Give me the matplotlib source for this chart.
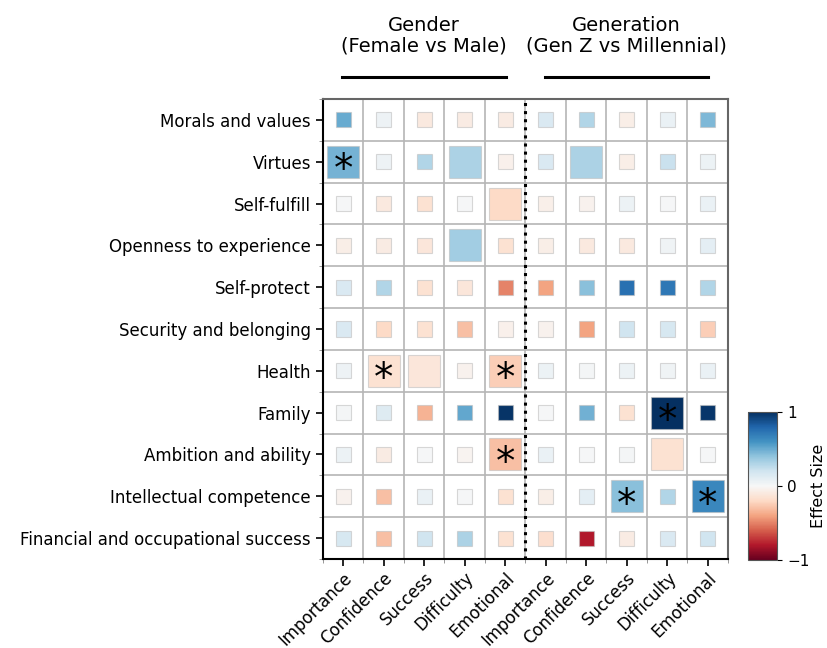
import numpy as np
import matplotlib
matplotlib.use("Agg")
import matplotlib.pyplot as plt
from matplotlib.patches import Rectangle
from matplotlib.colors import Normalize

# Data
rows = ["Morals and values", "Virtues", "Self-fulfill", "Openness to experience",
        "Self-protect", "Security and belonging", "Health", "Family",
        "Ambition and ability", "Intellectual competence",
        "Financial and occupational success"]
measures = ["Importance", "Confidence", "Success", "Difficulty", "Emotional"]
columns = measures + measures

# effect sizes: first 5 = gender (female vs male), last 5 = generation (gen z vs millennial)
effect = [
    [0.50, 0.05, -0.10, -0.08, -0.08, 0.15, 0.30, -0.07, 0.07, 0.45],
    [0.47, 0.05, 0.30, 0.32, -0.05, 0.15, 0.32, -0.07, 0.22, 0.06],
    [0.01, -0.10, -0.15, 0.01, -0.20, -0.06, -0.04, 0.06, 0.01, 0.07],
    [-0.07, -0.08, -0.12, 0.35, -0.15, -0.07, -0.10, -0.10, 0.04, 0.10],
    [0.15, 0.30, -0.15, -0.12, -0.50, -0.40, 0.42, 0.75, 0.72, 0.30],
    [0.15, -0.20, -0.15, -0.30, -0.05, -0.04, -0.40, 0.20, 0.17, -0.25],
    [0.05, -0.15, -0.12, -0.04, -0.25, 0.06, 0.02, 0.06, 0.04, 0.07],
    [0.02, 0.13, -0.35, 0.52, 0.98, 0.01, 0.48, -0.15, 1.00, 0.97],
    [0.06, -0.08, 0.01, -0.03, -0.30, 0.07, 0.01, 0.02, -0.15, 0.01],
    [-0.04, -0.30, 0.07, 0.01, -0.15, -0.07, 0.10, 0.42, 0.30, 0.65],
    [0.17, -0.30, 0.20, 0.32, -0.15, -0.17, -0.80, -0.08, 0.15, 0.20],
]
# 0 = not significant, 1 = large square, 2 = large square + asterisk
sig = [
    [0, 0, 0, 0, 0, 0, 0, 0, 0, 0],
    [2, 0, 0, 1, 0, 0, 1, 0, 0, 0],
    [0, 0, 0, 0, 1, 0, 0, 0, 0, 0],
    [0, 0, 0, 1, 0, 0, 0, 0, 0, 0],
    [0, 0, 0, 0, 0, 0, 0, 0, 0, 0],
    [0, 0, 0, 0, 0, 0, 0, 0, 0, 0],
    [0, 2, 1, 0, 2, 0, 0, 0, 0, 0],
    [0, 0, 0, 0, 0, 0, 0, 0, 2, 0],
    [0, 0, 0, 0, 2, 0, 0, 0, 1, 0],
    [0, 0, 0, 0, 0, 0, 0, 2, 0, 2],
    [0, 0, 0, 0, 0, 0, 0, 0, 0, 0],
]
group_titles = ["Gender\n(Female vs Male)", "Generation\n(Gen Z vs Millennial)"]

cmap = plt.get_cmap("RdBu")
norm = Normalize(-1, 1)

fig = plt.figure(figsize=(8.28, 6.48), dpi=100)
ax = fig.add_axes([0.390, 0.1373, 0.489, 0.710])

nr, nc = len(rows), len(columns)
# keep squares square although cells are slightly taller than wide
pos = ax.get_position()
cw = pos.width * fig.get_figwidth() / nc
ch = pos.height * fig.get_figheight() / nr
for i in range(nr):
    for j in range(nc):
        s = 0.765 if sig[i][j] > 0 else 0.36
        w = s * ch / cw
        ax.add_patch(Rectangle((j - w / 2, i - s / 2), w, s,
                               facecolor=cmap(norm(effect[i][j])),
                               edgecolor=(0.75, 0.75, 0.75, 0.6), linewidth=0.8, zorder=3))
        if sig[i][j] == 2:
            ax.text(j, i + 0.2, "*", ha="center", va="center", fontsize=28, zorder=4)

ax.set_xlim(-0.5, nc - 0.5)
ax.set_ylim(nr - 0.5, -0.5)
ax.set_xticks(np.arange(nc))
ax.set_xticklabels(columns, rotation=45, ha="right", rotation_mode="anchor", fontsize=12)
ax.set_yticks(np.arange(nr))
ax.set_yticklabels(rows, fontsize=12)
ax.set_xticks(np.arange(nc + 1) - 0.5, minor=True)
ax.set_yticks(np.arange(nr + 1) - 0.5, minor=True)
ax.grid(which="minor", color="#b5b5b5", linewidth=1.2, zorder=0)
ax.tick_params(which="minor", length=3, color="#888888")
ax.tick_params(which="major", length=5, width=1.2)
ax.tick_params(axis="x", which="major", pad=2)
ax.axvline(4.5, color="black", linestyle=":", linewidth=2.2, zorder=5)
for side in ["left", "bottom"]:
    ax.spines[side].set_linewidth(1.5)
for side in ["top", "right"]:
    ax.spines[side].set_color("#666666")
    ax.spines[side].set_linewidth(1.5)

# group headers
for k, title in enumerate(group_titles):
    xc = 2 + 5 * k
    ax.text(xc, -1.55, title, ha="center", va="bottom", fontsize=14,
            linespacing=1.1, clip_on=False)
    ax.plot([xc - 2.02, xc + 2.02], [-1.02, -1.02], color="black", linewidth=2.2,
            clip_on=False)

# colorbar
cax = fig.add_axes([0.903, 0.136, 0.036, 0.228])
sm = plt.cm.ScalarMappable(norm=norm, cmap=cmap)
cb = fig.colorbar(sm, cax=cax, ticks=[-1, 0, 1])
cb.ax.set_yticklabels(["\u22121", "0", "1"], fontsize=11)
cb.set_label("Effect Size", fontsize=11.5, labelpad=1)
cb.outline.set_edgecolor("#555555")

fig.savefig("out.png", dpi=100)
